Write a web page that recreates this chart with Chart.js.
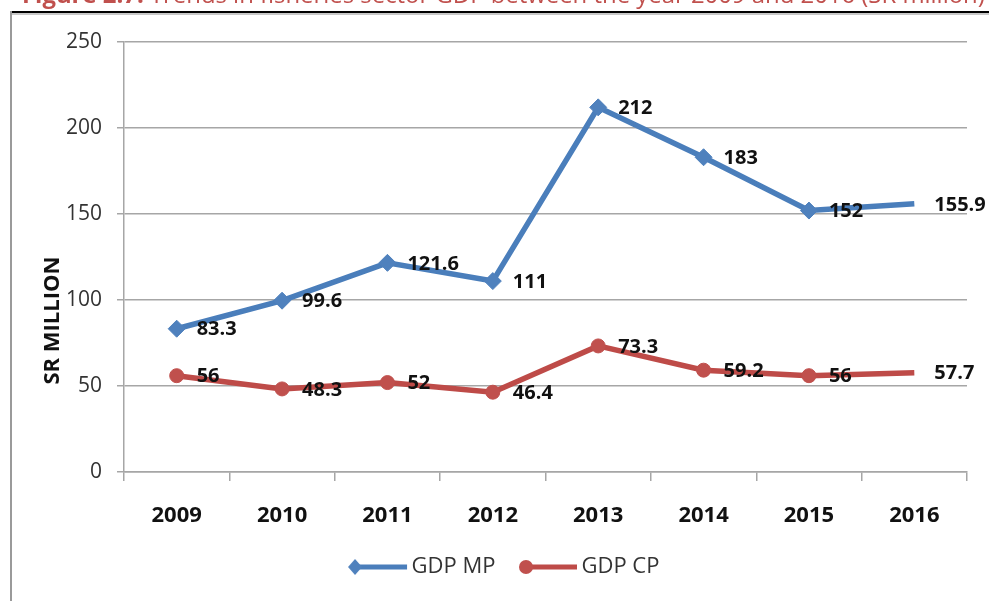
<!DOCTYPE html>
<html>
<head>
<meta charset="utf-8">
<script src="https://cdn.jsdelivr.net/npm/chart.js@4.4.1/dist/chart.umd.min.js"></script>
<style>
  html, body { margin: 0; padding: 0; background: #fff; }
  #wrap { position: relative; width: 989px; height: 601px; overflow: hidden; background: #fff; }
  #fig { position: absolute; left: 0; top: 0; }
  #caption { position: absolute; left: 22px; top: -16px; white-space: nowrap;
             font-family: "Open Sans", sans-serif; font-size: 20px; line-height: 20px; color: #c0504d; }
  #caption b { font-weight: 700; }
  #frameTop { position: absolute; left: 10px; right: 0; top: 11px; height: 2px; background: #000; }
  #frameShade { position: absolute; left: 12px; right: 0; top: 13px; height: 2px; background: #c8c8c8; }
  #frameLeft { position: absolute; left: 10px; top: 11px; bottom: 0; width: 2px; background: #9a9a9a; }
</style>
</head>
<body>
<div id="wrap">
  <canvas id="fig" width="989" height="601"></canvas>
  <div id="caption"><b>Figure 2.7:</b> Trends in fisheries sector GDP between the year 2009 and 2016 (SR million)</div>
  <div id="frameTop"></div>
  <div id="frameShade"></div>
  <div id="frameLeft"></div>
</div>
<script>
// Fisheries sector GDP, SR million
const years = ['2009', '2010', '2011', '2012', '2013', '2014', '2015', '2016'];
const gdpMP = [83.3, 99.6, 121.6, 111, 212, 183, 152, 155.9];
const gdpCP = [56, 48.3, 52, 46.4, 73.3, 59.2, 56, 57.7];
const seriesNames = ['GDP MP', 'GDP CP'];
const yTickValues = [0, 50, 100, 150, 200, 250];
const yAxisTitle = 'SR MILLION';

const BLUE_LINE = '#4a7ebb';
const BLUE_MARK = '#4f81bd';
const RED_LINE = '#be4b48';
const RED_MARK = '#c0504d';
const GRID = '#a6a6a6';

// Fit the caption to the frame width
(function () {
  const cap = document.getElementById('caption');
  const w = cap.scrollWidth;
  if (w > 0) cap.style.fontSize = (20 * 963 / w).toFixed(2) + 'px';
})();

// Legend swatch: line segment with the series marker at its left end
function legendSwatch(color, markColor, shape) {
  const c = document.createElement('canvas');
  c.width = 62; c.height = 20;
  const g = c.getContext('2d');
  g.strokeStyle = color; g.lineWidth = 5;
  g.beginPath(); g.moveTo(8, 10); g.lineTo(60, 10); g.stroke();
  g.fillStyle = markColor;
  g.beginPath();
  if (shape === 'diamond') {
    g.moveTo(8, 2); g.lineTo(15, 10); g.lineTo(8, 18); g.lineTo(1, 10); g.closePath();
  } else {
    g.arc(9, 10, 7, 0, Math.PI * 2);
  }
  g.fill();
  return c;
}

// Value labels to the right of each point
const valueLabels = {
  id: 'valueLabels',
  afterDatasetsDraw(chart) {
    const ctx = chart.ctx;
    ctx.save();
    ctx.font = 'bold 20px "Open Sans", sans-serif';
    ctx.fillStyle = '#111';
    ctx.textAlign = 'left';
    ctx.textBaseline = 'middle';
    chart.data.datasets.forEach((ds, i) => {
      chart.getDatasetMeta(i).data.forEach((pt, j) => {
        ctx.fillText(String(ds.data[j]), pt.x + 20, pt.y + 1);
      });
    });
    ctx.restore();
  }
};

// Vertical axis title, set slightly below the middle of the axis
const axisTitle = {
  id: 'axisTitle',
  afterDraw(chart) {
    const { ctx, chartArea } = chart;
    ctx.save();
    ctx.translate(chartArea.left - 71, chartArea.top + (chartArea.bottom - chartArea.top) * 0.648);
    ctx.rotate(-Math.PI / 2);
    ctx.font = 'bold 22px "Open Sans", sans-serif';
    ctx.fillStyle = '#111';
    ctx.textAlign = 'center';
    ctx.textBaseline = 'middle';
    ctx.fillText(yAxisTitle, 0, 0);
    ctx.restore();
  }
};

function draw() {
  Chart.defaults.font.family = '"Open Sans", sans-serif';
  const swatches = [
    legendSwatch(BLUE_LINE, BLUE_MARK, 'diamond'),
    legendSwatch(RED_LINE, RED_MARK, 'circle')
  ];
  const lastHidden = (r) => years.map((_, i) => (i === years.length - 1 ? 0 : r));

  new Chart(document.getElementById('fig'), {
    type: 'line',
    data: {
      labels: years,
      datasets: [
        {
          label: seriesNames[0], data: gdpMP,
          borderColor: BLUE_LINE, backgroundColor: BLUE_MARK, borderWidth: 5.5,
          pointStyle: 'rectRot', pointRadius: lastHidden(8.5), pointHoverRadius: lastHidden(8.5),
          pointBackgroundColor: BLUE_MARK, pointBorderColor: BLUE_MARK, pointBorderWidth: 1,
          tension: 0, fill: false
        },
        {
          label: seriesNames[1], data: gdpCP,
          borderColor: RED_LINE, backgroundColor: RED_MARK, borderWidth: 5.5,
          pointStyle: 'circle', pointRadius: lastHidden(7), pointHoverRadius: lastHidden(7),
          pointBackgroundColor: RED_MARK, pointBorderColor: RED_MARK, pointBorderWidth: 1,
          tension: 0, fill: false
        }
      ]
    },
    options: {
      responsive: false,
      animation: false,
      layout: { padding: { left: 48, right: 22, top: 42, bottom: 13 } },
      plugins: {
        title: { display: false },
        tooltip: { enabled: false },
        legend: {
          position: 'bottom',
          labels: {
            usePointStyle: true,
            pointStyleWidth: 45,
            padding: 30,
            color: '#333',
            font: { size: 22 },
            generateLabels(chart) {
              const items = Chart.defaults.plugins.legend.labels.generateLabels(chart);
              items.forEach((it, i) => { it.pointStyle = swatches[i]; });
              return items;
            }
          }
        }
      },
      scales: {
        x: {
          offset: true,
          grid: { offset: true, drawOnChartArea: false, drawTicks: true, tickLength: 9, color: GRID, lineWidth: 1.5 },
          border: { display: true, color: GRID, width: 1.5 },
          ticks: { color: '#111', font: { size: 22, weight: 'bold' }, padding: 22, maxRotation: 0 },
          afterFit(scale) { scale.height = 54; }
        },
        y: {
          min: yTickValues[0],
          max: yTickValues[yTickValues.length - 1],
          afterBuildTicks(scale) { scale.ticks = yTickValues.map(v => ({ value: v })); },
          grid: { color: GRID, lineWidth: 1.5, tickLength: 7, drawTicks: true },
          border: { display: true, color: GRID, width: 1.5 },
          ticks: { color: '#333', font: { size: 21 }, padding: 15 },
          afterFit(scale) { scale.width = 76; }
        }
      }
    },
    plugins: [valueLabels, axisTitle]
  });
}

Promise.all([
  document.fonts.load('20px "Open Sans"'),
  document.fonts.load('bold 20px "Open Sans"')
]).then(draw, draw);
</script>
</body>
</html>
